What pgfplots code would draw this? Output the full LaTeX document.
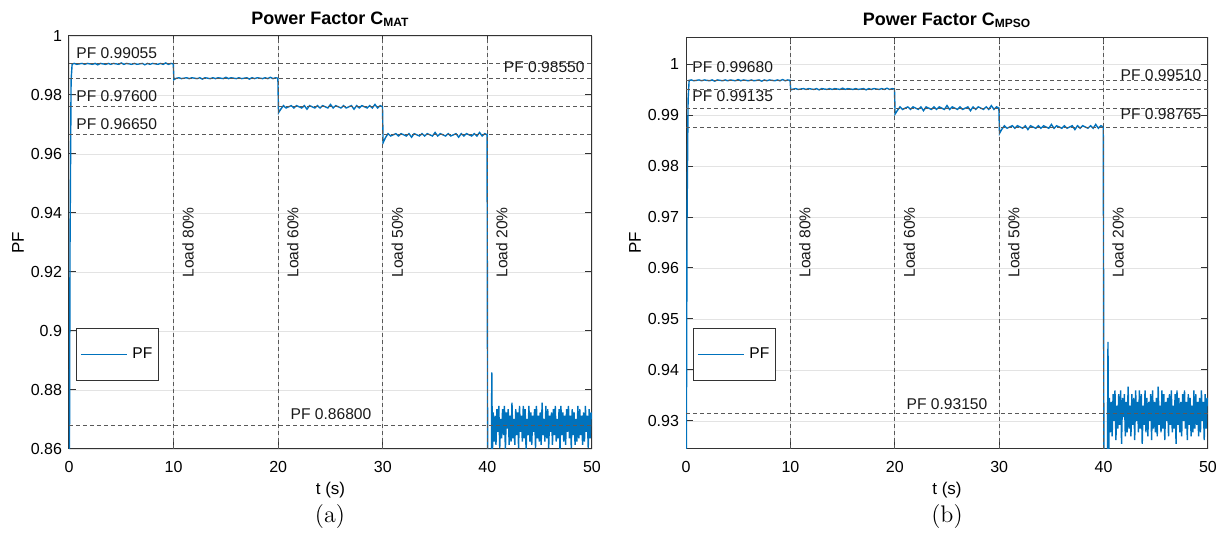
\documentclass[border=0pt]{standalone}
\usepackage{fontspec}
\usepackage{pgfplots}
\usepackage{pgfplotstable}
\pgfplotsset{compat=1.18}
\newfontfamily\arial{Liberation Sans}
\definecolor{pfblue}{RGB}{0,114,189}

\pgfplotstableread{
t pfa pfb
0.00 0.8000 0.9000
0.10 0.9300 0.9700
0.20 0.9850 0.9930
0.30 0.9905 0.9968
0.50 0.99070 0.99688
0.75 0.99040 0.99672
1.00 0.99055 0.99680
1.25 0.99070 0.99688
1.50 0.99040 0.99672
1.75 0.99070 0.99688
2.00 0.99055 0.99680
2.25 0.99040 0.99672
2.50 0.99070 0.99688
2.75 0.99025 0.99664
3.00 0.99070 0.99688
3.25 0.99055 0.99680
3.50 0.99040 0.99672
3.75 0.99070 0.99688
4.00 0.99040 0.99672
4.25 0.99070 0.99688
4.50 0.99055 0.99680
4.75 0.99040 0.99672
5.00 0.99085 0.99696
5.25 0.99040 0.99672
5.50 0.99070 0.99688
5.75 0.99055 0.99680
6.00 0.99040 0.99672
6.25 0.99070 0.99688
6.50 0.99040 0.99672
6.75 0.99055 0.99680
7.00 0.99070 0.99688
7.25 0.99025 0.99664
7.50 0.99070 0.99688
7.75 0.99040 0.99672
8.00 0.99070 0.99688
8.25 0.99055 0.99680
8.50 0.99040 0.99672
8.75 0.99070 0.99688
9.00 0.99040 0.99672
9.25 0.99085 0.99696
9.50 0.99040 0.99672
9.75 0.99070 0.99688
9.97 0.99055 0.99680
10.03 0.98520 0.99490
10.25 0.98565 0.99508
10.50 0.98585 0.99518
10.75 0.98555 0.99502
11.00 0.98570 0.99510
11.25 0.98585 0.99518
11.50 0.98555 0.99502
11.75 0.98585 0.99518
12.00 0.98570 0.99510
12.25 0.98555 0.99502
12.50 0.98585 0.99518
12.75 0.98540 0.99494
13.00 0.98585 0.99518
13.25 0.98570 0.99510
13.50 0.98555 0.99502
13.75 0.98585 0.99518
14.00 0.98555 0.99502
14.25 0.98585 0.99518
14.50 0.98570 0.99510
14.75 0.98555 0.99502
15.00 0.98600 0.99526
15.25 0.98555 0.99502
15.50 0.98585 0.99518
15.75 0.98570 0.99510
16.00 0.98555 0.99502
16.25 0.98585 0.99518
16.50 0.98555 0.99502
16.75 0.98570 0.99510
17.00 0.98585 0.99518
17.25 0.98540 0.99494
17.50 0.98585 0.99518
17.75 0.98555 0.99502
18.00 0.98585 0.99518
18.25 0.98570 0.99510
18.50 0.98555 0.99502
18.75 0.98585 0.99518
19.00 0.98555 0.99502
19.25 0.98600 0.99526
19.50 0.98555 0.99502
19.75 0.98585 0.99518
19.97 0.98570 0.99510
20.03 0.97400 0.99020
20.25 0.97520 0.99090
20.50 0.9764 0.99160
20.75 0.9756 0.99110
21.00 0.9760 0.99135
21.25 0.9764 0.99160
21.50 0.9756 0.99110
21.75 0.9764 0.99160
22.00 0.9760 0.99135
22.25 0.9756 0.99110
22.50 0.9764 0.99160
22.75 0.9752 0.99085
23.00 0.9764 0.99160
23.25 0.9760 0.99135
23.50 0.9756 0.99110
23.75 0.9764 0.99160
24.00 0.9756 0.99110
24.25 0.9764 0.99160
24.50 0.9760 0.99135
24.75 0.9756 0.99110
25.00 0.9768 0.99185
25.25 0.9756 0.99110
25.50 0.9764 0.99160
25.75 0.9760 0.99135
26.00 0.9756 0.99110
26.25 0.9764 0.99160
26.50 0.9756 0.99110
26.75 0.9760 0.99135
27.00 0.9764 0.99160
27.25 0.9752 0.99085
27.50 0.9764 0.99160
27.75 0.9756 0.99110
28.00 0.9764 0.99160
28.25 0.9760 0.99135
28.50 0.9756 0.99110
28.75 0.9764 0.99160
29.00 0.9756 0.99110
29.25 0.9768 0.99185
29.50 0.9756 0.99110
29.75 0.9764 0.99160
29.97 0.9760 0.99135
30.03 0.9638 0.98640
30.25 0.9655 0.98720
30.50 0.9669 0.98790
30.75 0.9661 0.98740
31.00 0.9665 0.98765
31.25 0.9669 0.98790
31.50 0.9661 0.98740
31.75 0.9669 0.98790
32.00 0.9665 0.98765
32.25 0.9661 0.98740
32.50 0.9669 0.98790
32.75 0.9657 0.98715
33.00 0.9669 0.98790
33.25 0.9665 0.98765
33.50 0.9661 0.98740
33.75 0.9669 0.98790
34.00 0.9661 0.98740
34.25 0.9669 0.98790
34.50 0.9665 0.98765
34.75 0.9661 0.98740
35.00 0.9673 0.98815
35.25 0.9661 0.98740
35.50 0.9669 0.98790
35.75 0.9665 0.98765
36.00 0.9661 0.98740
36.25 0.9669 0.98790
36.50 0.9661 0.98740
36.75 0.9665 0.98765
37.00 0.9669 0.98790
37.25 0.9657 0.98715
37.50 0.9669 0.98790
37.75 0.9661 0.98740
38.00 0.9669 0.98790
38.25 0.9665 0.98765
38.50 0.9661 0.98740
38.75 0.9669 0.98790
39.00 0.9661 0.98740
39.25 0.9673 0.98815
39.50 0.9661 0.98740
39.75 0.9669 0.98790
39.97 0.9665 0.98765
40.05 0.8000 0.9000
40.35 0.8300 0.9150
40.42 0.8860 0.9455
40.48 0.8580 0.9200
40.55 0.8724 0.93450
40.64 0.8625 0.92775
40.73 0.8713 0.93375
40.82 0.8614 0.92700
40.91 0.8735 0.93525
41.00 0.8658 0.93000
41.09 0.8746 0.93600
41.18 0.8603 0.92625
41.27 0.8702 0.93300
41.36 0.8636 0.92850
41.45 0.8735 0.93525
41.54 0.8647 0.92925
41.63 0.8746 0.93600
41.72 0.8592 0.92550
41.81 0.8724 0.93450
41.90 0.8669 0.93075
41.99 0.8735 0.93525
42.08 0.8614 0.92700
42.17 0.8713 0.93375
42.26 0.8625 0.92775
42.35 0.8757 0.93675
42.44 0.8636 0.92850
42.53 0.8702 0.93300
42.62 0.8614 0.92700
42.71 0.8735 0.93525
42.80 0.8647 0.92925
42.89 0.8724 0.93450
42.98 0.8603 0.92625
43.07 0.8746 0.93600
43.16 0.8658 0.93000
43.25 0.8713 0.93375
43.34 0.8625 0.92775
43.43 0.8746 0.93600
43.52 0.8636 0.92850
43.61 0.8735 0.93525
43.70 0.8592 0.92550
43.79 0.8702 0.93300
43.88 0.8647 0.92925
43.97 0.8746 0.93600
44.06 0.8625 0.92775
44.15 0.8724 0.93450
44.24 0.8614 0.92700
44.33 0.8713 0.93375
44.42 0.8658 0.93000
44.51 0.8735 0.93525
44.60 0.8603 0.92625
44.69 0.8746 0.93600
44.78 0.8636 0.92850
44.87 0.8713 0.93375
44.96 0.8625 0.92775
45.05 0.8724 0.93450
45.14 0.8614 0.92700
45.23 0.8757 0.93675
45.32 0.8647 0.92925
45.41 0.8702 0.93300
45.50 0.8625 0.92775
45.59 0.8746 0.93600
45.68 0.8636 0.92850
45.77 0.8735 0.93525
45.86 0.8603 0.92625
45.95 0.8713 0.93375
46.04 0.8658 0.93000
46.13 0.8724 0.93450
46.22 0.8614 0.92700
46.31 0.8735 0.93525
46.40 0.8647 0.92925
46.49 0.8746 0.93600
46.58 0.8625 0.92775
46.67 0.8702 0.93300
46.76 0.8636 0.92850
46.85 0.8735 0.93525
46.94 0.8592 0.92550
47.03 0.8746 0.93600
47.12 0.8647 0.92925
47.21 0.8724 0.93450
47.30 0.8625 0.92775
47.39 0.8713 0.93375
47.48 0.8614 0.92700
47.57 0.8735 0.93525
47.66 0.8658 0.93000
47.75 0.8746 0.93600
47.84 0.8636 0.92850
47.93 0.8713 0.93375
48.02 0.8603 0.92625
48.11 0.8735 0.93525
48.20 0.8647 0.92925
48.29 0.8724 0.93450
48.38 0.8614 0.92700
48.47 0.8702 0.93300
48.56 0.8625 0.92775
48.65 0.8746 0.93600
48.74 0.8636 0.92850
48.83 0.8735 0.93525
48.92 0.8647 0.92925
49.01 0.8713 0.93375
49.10 0.8614 0.92700
49.19 0.8724 0.93450
49.28 0.8625 0.92775
49.37 0.8746 0.93600
49.46 0.8658 0.93000
49.55 0.8713 0.93375
49.64 0.8603 0.92625
49.73 0.8735 0.93525
49.82 0.8636 0.92850
49.91 0.8724 0.93450
50.00 0.8702 0.93300
}\pfdata

\pgfplotsset{
  pfaxis/.style={
    scale only axis, width=261.5pt, height=206.5pt,
    xmin=0, xmax=50, xtick={0,10,20,30,40,50},
    axis line style={black!80, line width=0.5pt},
    tick align=inside, xtick pos=both, ytick pos=both,
    xticklabel pos=left, yticklabel pos=left,
    major tick length=3.5pt, tick style={black!80, line width=0.5pt},
    grid=major, major grid style={gray!22, line width=0.4pt},
    font=\arial\fontsize{8}{9.6}\selectfont,
    ticklabel style={font=\arial\fontsize{8}{9.6}\selectfont},
    xticklabel style={yshift=-2.5pt},
    /pgf/number format/assume math mode=true,
    /pgf/number format/fixed,
    /pgf/number format/precision=2,
    scaled y ticks=false,
    title style={font=\arial\bfseries\fontsize{9}{10.8}\selectfont,
      at={(axis description cs:0.5,1)}, anchor=center, yshift=2.5pt},
    label style={font=\arial\fontsize{8.5}{10}\selectfont},
    xlabel={t (s)}, ylabel={PF},
    xlabel style={at={(axis description cs:0.5,-0.0993)}, anchor=center},
    ylabel style={at={(axis description cs:-0.0975,0.5)}, anchor=center},
    legend style={at={(0.0134,0.293)}, anchor=north west, draw=black!80,
      line width=0.4pt, fill=white, inner xsep=2pt, inner ysep=8.5pt,
      font=\arial\fontsize{7.8}{9}\selectfont,
      column sep=1.5pt,
      nodes={inner sep=1pt}},
    legend cell align=left,
    legend image code/.code={\draw[#1, line width=0.5pt] (0pt,0pt) -- (23pt,0pt);},
  },
  refline/.style={black!65, line width=0.5pt, dash pattern=on 2pt off 1.5pt, forget plot},
}
\tikzset{anno/.style={font=\arial\fontsize{7.8}{9}\selectfont, inner sep=0pt, text=black!90}}

\begin{document}
\begin{tikzpicture}
\useasboundingbox (0,0) rectangle (611pt,-272.5pt);

\begin{axis}[pfaxis, at={(34.5pt,-224.5pt)}, anchor=south west,
  ymin=0.86, ymax=1,
  ytick={0.86,0.88,0.9,0.92,0.94,0.96,0.98,1},
  title={Power Factor C\textsubscript{MAT}}]
\addplot[pfblue, line width=0.7pt] table[x=t, y=pfa] {\pfdata};
\addlegendentry{PF}
\addplot[refline] coordinates {(0,0.99055) (50,0.99055)};
\addplot[refline] coordinates {(0,0.9855) (50,0.9855)};
\addplot[refline] coordinates {(0,0.976) (50,0.976)};
\addplot[refline] coordinates {(0,0.9665) (50,0.9665)};
\addplot[refline] coordinates {(0,0.868) (50,0.868)};
\addplot[refline] coordinates {(10,0.86) (10,1)};
\addplot[refline] coordinates {(20,0.86) (20,1)};
\addplot[refline] coordinates {(30,0.86) (30,1)};
\addplot[refline] coordinates {(40,0.86) (40,1)};
\node[anno, anchor=west] at (axis cs:0.67,0.9942) {PF 0.99055};
\node[anno, anchor=east] at (axis cs:49.33,0.9896) {PF 0.98550};
\node[anno, anchor=west] at (axis cs:0.67,0.9797) {PF 0.97600};
\node[anno, anchor=west] at (axis cs:0.67,0.9702) {PF 0.96650};
\node[anno] at (axis cs:25.05,0.8719) {PF 0.86800};
\node[anno, rotate=90, anchor=north] at (axis cs:10.8,0.93) {Load 80\%};
\node[anno, rotate=90, anchor=north] at (axis cs:20.8,0.93) {Load 60\%};
\node[anno, rotate=90, anchor=north] at (axis cs:30.8,0.93) {Load 50\%};
\node[anno, rotate=90, anchor=north] at (axis cs:40.8,0.93) {Load 20\%};
\end{axis}

\begin{axis}[pfaxis, at={(343pt,-224.5pt)}, anchor=south west, width=261pt, height=206pt,
  ymin=0.9245, ymax=1.0053,
  ytick={0.93,0.94,0.95,0.96,0.97,0.98,0.99,1},
  title={Power Factor C\textsubscript{MPSO}}]
\addplot[pfblue, line width=0.7pt] table[x=t, y=pfb] {\pfdata};
\addlegendentry{PF}
\addplot[refline] coordinates {(0,0.9968) (50,0.9968)};
\addplot[refline] coordinates {(0,0.9951) (50,0.9951)};
\addplot[refline] coordinates {(0,0.99135) (50,0.99135)};
\addplot[refline] coordinates {(0,0.98765) (50,0.98765)};
\addplot[refline] coordinates {(0,0.9315) (50,0.9315)};
\addplot[refline] coordinates {(10,0.9245) (10,1.0053)};
\addplot[refline] coordinates {(20,0.9245) (20,1.0053)};
\addplot[refline] coordinates {(30,0.9245) (30,1.0053)};
\addplot[refline] coordinates {(40,0.9245) (40,1.0053)};
\node[anno, anchor=west] at (axis cs:0.57,0.99931) {PF 0.99680};
\node[anno, anchor=west] at (axis cs:0.57,0.99373) {PF 0.99135};
\node[anno, anchor=east] at (axis cs:49.4,0.99778) {PF 0.99510};
\node[anno, anchor=east] at (axis cs:49.4,0.9901) {PF 0.98765};
\node[anno] at (axis cs:25.0,0.93333) {PF 0.93150};
\node[anno, rotate=90, anchor=north] at (axis cs:10.8,0.965) {Load 80\%};
\node[anno, rotate=90, anchor=north] at (axis cs:20.8,0.965) {Load 60\%};
\node[anno, rotate=90, anchor=north] at (axis cs:30.8,0.965) {Load 50\%};
\node[anno, rotate=90, anchor=north] at (axis cs:40.8,0.965) {Load 20\%};
\end{axis}

\node[font=\fontsize{12}{14}\selectfont] at (165pt,-258.5pt) {(a)};
\node[font=\fontsize{12}{14}\selectfont] at (473.5pt,-258.5pt) {(b)};
\end{tikzpicture}
\end{document}
